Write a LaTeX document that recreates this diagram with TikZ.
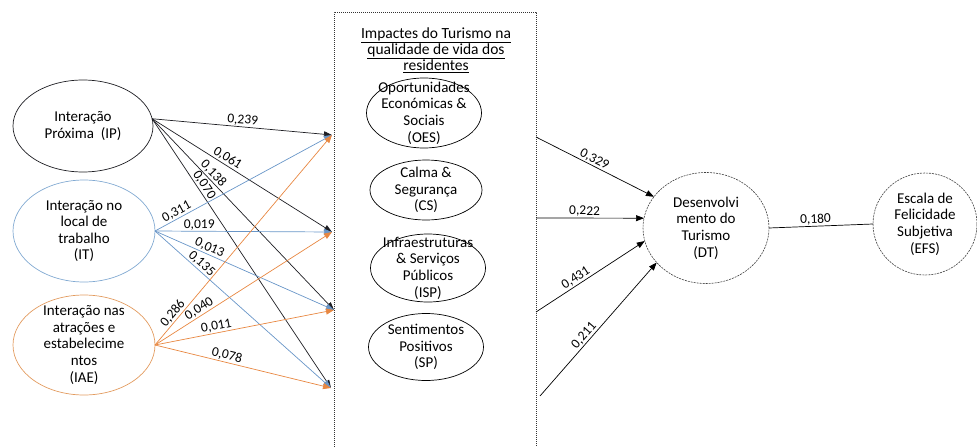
\documentclass[tikz,border=0pt]{standalone}
\usepackage{fontspec}
\setmainfont{Carlito}
\usetikzlibrary{arrows.meta,shapes.geometric}
\definecolor{ipblack}{RGB}{30,30,35}
\definecolor{itblue}{RGB}{105,150,200}
\definecolor{itring}{RGB}{130,170,210}
\definecolor{iaeorange}{RGB}{232,135,65}
\definecolor{iaering}{RGB}{226,155,95}
\tikzset{
  constr/.style={ellipse, draw, line width=0.7pt, align=center, inner sep=-15pt, outer sep=0pt,
    font=\fontsize{15}{16.6}\selectfont},
  latent/.style={constr, draw=black!75, line width=0.6pt, dash pattern=on 2pt off 1pt},
  coef/.style={-{Triangle[length=8pt,width=6pt]}, line width=0.7pt},
  val/.style={font=\fontsize{13.5}{14}\selectfont, text=black, sloped, above, inner sep=1pt},
  dashbox/.style={draw=black!80, line width=0.6pt, dash pattern=on 1pt off 1pt}
}
\begin{document}
\begin{tikzpicture}[x=1pt, y=-1pt]
    \useasboundingbox (0,0) rectangle (977,447);
    \node[constr, draw=ipblack, minimum width=140, minimum height=92] (IP) at (83,126) {Interação\\Próxima~~(IP)};
    \node[constr, draw=itring, minimum width=142, minimum height=102] (IT) at (84,231) {Interação no\\local de\\trabalho\\(IT)};
    \node[constr, draw=iaering, minimum width=142, minimum height=100] (IAE) at (84,345) {Interação nas\\atrações e\\estabelecime\\ntos\\(IAE)};
    \draw[dashbox] (334,447) -- (334,12) -- (536,12) -- (536,447);
    \node[align=center, font=\fontsize{15.5}{16}\selectfont] (title) at (436,50)
        {\underline{Impactes do Turismo na}\\\underline{qualidade de vida dos}\\\underline{residentes}};
    \node[constr, minimum width=115, minimum height=70] (OES) at (424,113) {Oportunidades\\Económicas \&\\Sociais\\(OES)};
    \node[constr, minimum width=112, minimum height=60] (CS) at (426,190) {Calma \&\\Segurança\\(CS)};
    \node[constr, minimum width=115, minimum height=68] (ISP) at (428,268) {Infraestruturas\\\& Serviços\\Públicos\\(ISP)};
    \node[constr, minimum width=115, minimum height=67] (SP) at (426,347) {Sentimentos\\Positivos\\(SP)};
    \node[latent, minimum width=126, minimum height=111] (DT) at (706,228) {Desenvolvi\\mento do\\Turismo\\(DT)};
    \node[latent, minimum width=104, minimum height=102] (EFS) at (925,224) {Escala de\\Felicidade\\Subjetiva\\(EFS)};
    \coordinate (t1) at (332,135);
    \coordinate (t2) at (332,232);
    \coordinate (t3) at (334,310);
    \coordinate (t4) at (331,388);
    \coordinate (b1) at (536,137);
    \coordinate (b2) at (536,218);
    \coordinate (b3) at (536,312);
    \coordinate (b4) at (540,396);
    \draw[coef, ipblack] (IP.6) -- node[val, pos=.5] {0,239} (t1);
    \draw[coef, ipblack] (IP.6) -- node[val, pos=.4] {0,061} (t2);
    \draw[coef, ipblack] (IP.6) -- node[val, pos=.31] {0,138} (t3);
    \draw[coef, ipblack] (IP.6) -- node[val, pos=.26] {0,070} (t4);
    \draw[coef, itblue] (IT.east) -- node[val, pos=.14] {0,311} (t1);
    \draw[coef, itblue] (IT.east) -- node[val, pos=.25] {0,019} (t2);
    \draw[coef, itblue] (IT.east) -- node[val, pos=.29] {0,013} (t3);
    \draw[coef, itblue] (IT.east) -- node[val, pos=.24] {0,135} (t4);
    \draw[coef, iaeorange] (IAE.east) -- node[val, pos=.13] {0,286} (t1);
    \draw[coef, iaeorange] (IAE.east) -- node[val, pos=.27] {0,040} (t2);
    \draw[coef, iaeorange] (IAE.east) -- node[val, pos=.35] {0,011} (t3);
    \draw[coef, iaeorange] (IAE.east) -- node[val, pos=.4] {0,078} (t4);
    \draw[coef] (b1) -- node[val, pos=.47] {0,329} (DT.149);
    \draw[coef] (b2) -- node[val, pos=.45] {0,222} (DT.171);
    \draw[coef] (b3) -- node[val, pos=.4] {0,431} (DT.192);
    \draw[coef] (b4) -- node[val, pos=.42] {0,211} (DT.215);
    \draw[line width=0.7pt] (DT.east) -- node[val, pos=.45] {0,180} (EFS.west);
\end{tikzpicture}
\end{document}
